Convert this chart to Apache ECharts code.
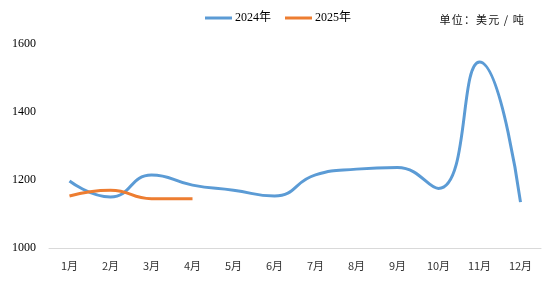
<!DOCTYPE html>
<html><head><meta charset="utf-8">
<script src="https://cdn.jsdelivr.net/npm/echarts@6/dist/echarts.min.js"></script>
<style>html,body{margin:0;padding:0;background:#fff}#c{width:558px;height:291px}</style>
</head><body><div id="c"></div>
<script>
var categories = ['1月','2月','3月','4月','5月','6月','7月','8月','9月','10月','11月','12月'];
var series2024 = [1197, 1150, 1215, 1185, 1170, 1153, 1215, 1232, 1237, 1175, 1547, 1135];
var series2025 = [1153, 1170, 1145, 1145];
var yTicks = [1000, 1200, 1400, 1600];
var unitText = '单位：美元/吨';
var chart = echarts.init(document.getElementById('c'));
var unitChars = unitText.split('').map(function (ch, i) {
  return {type: 'text', x: 445 + i * 12.2, y: 14,
    style: {text: ch, font: '11px "Noto Sans CJK SC"', fill: '#111', align: 'center'}};
});
chart.setOption({
  animation: false,
  backgroundColor: '#fff',
  grid: {left: 49, right: 17, top: 44, bottom: 43},
  legend: {
    top: 12, left: 205, padding: 0, itemWidth: 27, itemHeight: 3, itemGap: 14,
    icon: 'rect',
    textStyle: {fontFamily: 'Liberation Serif, Noto Sans CJK SC', fontSize: 12, color: '#000', padding: [0, 0, 0, -2]},
    data: ['2024年','2025年']
  },
  graphic: [{type: 'group', children: unitChars}],
  xAxis: {
    type: 'category', data: categories, boundaryGap: true,
    axisLine: {lineStyle: {color: '#d9d9d9'}}, axisTick: {show: false},
    axisLabel: {color: '#333', fontSize: 11, margin: 12, fontFamily: 'Noto Sans CJK SC'}
  },
  yAxis: {
    type: 'value', min: yTicks[0], max: yTicks[yTicks.length-1], interval: 200,
    splitLine: {show: false}, axisLine: {show: false}, axisTick: {show: false},
    axisLabel: {color: '#000', fontSize: 12, margin: 13, fontFamily: 'Liberation Serif',
      formatter: function (v) { return String(v); }}
  },
  series: [
    {name: '2024年', type: 'line', data: series2024, smooth: 0.5, showSymbol: false, symbol: 'none',
     lineStyle: {width: 3, color: '#5B9BD5'}, itemStyle: {color: '#5B9BD5'}},
    {name: '2025年', type: 'line', data: series2025, smooth: 0.5, showSymbol: false, symbol: 'none',
     lineStyle: {width: 3, color: '#ED7D31'}, itemStyle: {color: '#ED7D31'}}
  ]
});
</script></body></html>
